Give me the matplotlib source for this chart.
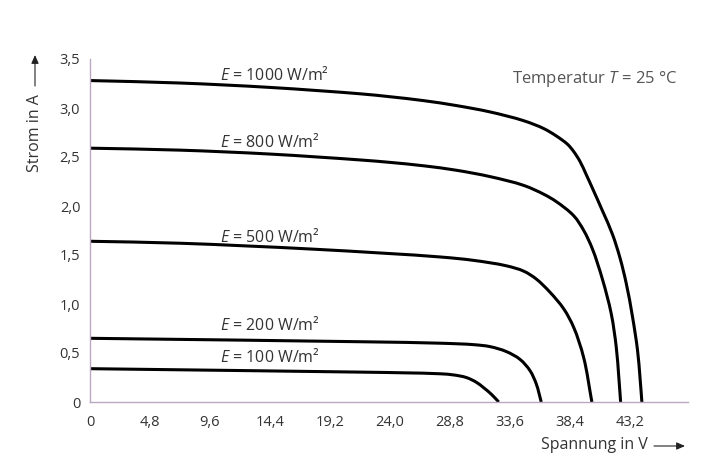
import matplotlib
matplotlib.use("Agg")
import matplotlib.pyplot as plt
import numpy as np
from matplotlib.path import Path
from matplotlib.patches import PathPatch
from matplotlib.ticker import FuncFormatter

plt.rcParams['font.family'] = ['Open Sans', 'DejaVu Sans']
plt.rcParams['mathtext.fontset'] = 'custom'
plt.rcParams['mathtext.it'] = 'Open Sans:italic'
plt.rcParams['mathtext.rm'] = 'Open Sans'

# Data (voltage V, current A)
v_1000 = [0, 7.2, 14.4, 21.6, 24.0, 26.7, 29.3, 32.0, 34.7, 36.3, 37.3, 38.2, 38.7, 39.2, 39.7, 40.2, 41.0,
          41.8, 42.4, 42.9, 43.4, 43.8, 44.0, 44.15]
i_1000 = [3.28, 3.255, 3.21, 3.145, 3.115, 3.075, 3.025, 2.96, 2.87, 2.79, 2.715, 2.63, 2.555, 2.455, 2.32, 2.18, 1.95,
          1.71, 1.47, 1.21, 0.87, 0.53, 0.25, 0.0]

v_800 = [0, 7.2, 14.4, 21.6, 24.0, 26.7, 29.3, 32.0, 34.7, 36.3, 37.3, 38.7, 39.5, 40.2, 41.0,
         41.7, 42.1, 42.3, 42.45]
i_800 = [2.59, 2.57, 2.53, 2.47, 2.445, 2.41, 2.365, 2.30, 2.21, 2.12, 2.045, 1.90, 1.75, 1.56, 1.25,
         0.90, 0.56, 0.26, 0.0]

v_500 = [0, 7.2, 17.8, 28.0, 30.7, 33.3, 34.7, 35.7, 36.8, 37.9, 38.7, 39.5, 40.15]
i_500 = [1.64, 1.62, 1.56, 1.48, 1.445, 1.39, 1.335, 1.255, 1.12, 0.95, 0.76, 0.45, 0.0]

v_200 = [0, 21.6, 28.0, 30.7, 32.0, 33.3, 34.4, 35.2, 35.7, 36.1]
i_200 = [0.65, 0.615, 0.60, 0.585, 0.565, 0.515, 0.435, 0.32, 0.185, 0.0]

v_100 = [0, 21.6, 25.0, 28.0, 29.1, 30.1, 30.9, 31.5, 32.1, 32.7]
i_100 = [0.34, 0.305, 0.298, 0.288, 0.276, 0.25, 0.202, 0.145, 0.08, 0.0]

curve_labels = ["1000", "800", "500", "200", "100"]
label_v = [10.4, 10.4, 10.4, 10.4, 10.4]
label_i = [3.34, 2.65, 1.68, 0.79, 0.46]

x_ticks = [0, 4.8, 9.6, 14.4, 19.2, 24.0, 28.8, 33.6, 38.4, 43.2]
y_ticks = [0, 0.5, 1.0, 1.5, 2.0, 2.5, 3.0, 3.5]

fig = plt.figure(figsize=(7.14, 4.62), dpi=100)
ax = fig.add_axes([90/714, 60/462, 598/714, 343/462])
ax.set_xlim(0, 47.84)
ax.set_ylim(0, 3.5)


def smooth_path(vv, ii, sx=12.5, sy=98.0, alpha=0.5):
    """Centripetal Catmull-Rom curve as cubic Bezier path through every read point."""
    p = np.column_stack([np.asarray(vv, float) * sx, np.asarray(ii, float) * sy])
    n = len(p)
    ext = np.vstack([2 * p[0] - p[1], p, 2 * p[-1] - p[-2]])
    verts = [p[0]]
    codes = [Path.MOVETO]
    for k in range(1, n):
        p0, p1, p2, p3 = ext[k - 1], ext[k], ext[k + 1], ext[k + 2]
        d0 = max(np.linalg.norm(p1 - p0) ** alpha, 1e-6)
        d1 = max(np.linalg.norm(p2 - p1) ** alpha, 1e-6)
        d2 = max(np.linalg.norm(p3 - p2) ** alpha, 1e-6)
        m1 = (p1 - p0) / d0 - (p2 - p0) / (d0 + d1) + (p2 - p1) / d1
        m2 = (p2 - p1) / d1 - (p3 - p1) / (d1 + d2) + (p3 - p2) / d2
        m1 *= d1
        m2 *= d1
        verts += [p1 + m1 / 3.0, p2 - m2 / 3.0, p2]
        codes += [Path.CURVE4] * 3
    verts = np.array(verts) / np.array([sx, sy])
    return Path(verts, codes)


series = [(v_1000, i_1000), (v_800, i_800), (v_500, i_500), (v_200, i_200), (v_100, i_100)]
for (vv, ii) in series:
    ax.add_patch(PathPatch(smooth_path(vv, ii), facecolor='none', edgecolor='black',
                           lw=2.2, capstyle='butt', joinstyle='round'))

for lab, lv, li in zip(curve_labels, label_v, label_i):
    ax.text(lv, li, r"$E$ = " + lab + " W/m²", ha='left', va='center',
            fontsize=11.5, color='#333333')

ax.set_xticks(x_ticks)
ax.set_yticks(y_ticks)


def fmt(val, pos):
    if abs(val) < 1e-9:
        return "0"
    return f"{val:.1f}".replace('.', ',')


ax.xaxis.set_major_formatter(FuncFormatter(fmt))
ax.yaxis.set_major_formatter(FuncFormatter(fmt))
ax.tick_params(axis='both', length=0, labelsize=10.5, colors='#333333')
ax.tick_params(axis='x', pad=9)
ax.tick_params(axis='y', pad=7)

for side in ['top', 'right']:
    ax.spines[side].set_visible(False)
for side in ['left', 'bottom']:
    ax.spines[side].set_linestyle((0, (1, 1)))
    ax.spines[side].set_color('#b8a8c0')
    ax.spines[side].set_linewidth(1.0)

# axis titles with arrows
fig.text(35/714, 1 - 133/462, "Strom in A", rotation=90, ha='center', va='center',
         fontsize=11.5, color='#333333')
ax.annotate('', xy=(35, 462 - 55), xytext=(35, 462 - 86), xycoords='figure pixels',
            textcoords='figure pixels',
            arrowprops=dict(arrowstyle='-|>,head_length=0.5,head_width=0.22',
                            lw=0.8, color='#222222', shrinkA=0, shrinkB=0))

fig.text(594/714, 1 - 445/462, "Spannung in V", ha='center', va='center',
         fontsize=11.5, color='#333333')
ax.annotate('', xy=(685, 462 - 446), xytext=(654, 462 - 446), xycoords='figure pixels',
            textcoords='figure pixels',
            arrowprops=dict(arrowstyle='-|>,head_length=0.5,head_width=0.22',
                            lw=0.8, color='#222222', shrinkA=0, shrinkB=0))

fig.text(595/714, 1 - 79/462, r"Temperatur $T$ = 25 °C", ha='center', va='center',
         fontsize=12, color='#555555')

fig.savefig("out.png", dpi=100)
